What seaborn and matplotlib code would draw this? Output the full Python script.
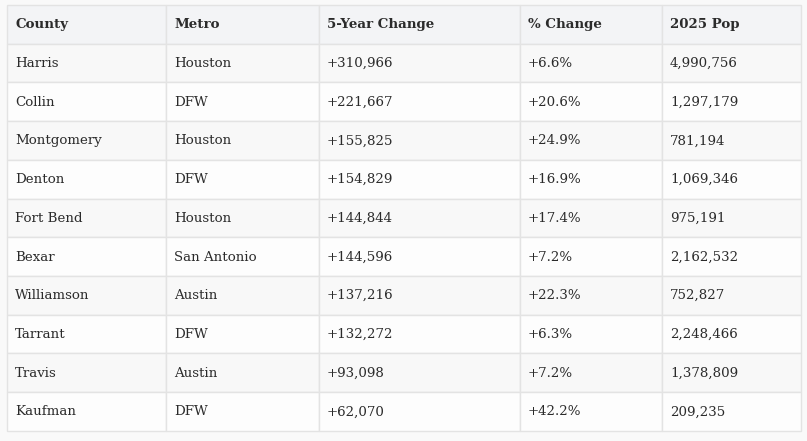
import matplotlib
matplotlib.use("Agg")
import matplotlib.pyplot as plt
from matplotlib.patches import Rectangle
import seaborn as sns

headers = ["County", "Metro", "5-Year Change", "% Change", "2025 Pop"]
counties = ["Harris", "Collin", "Montgomery", "Denton", "Fort Bend",
            "Bexar", "Williamson", "Tarrant", "Travis", "Kaufman"]
metros = ["Houston", "DFW", "Houston", "DFW", "Houston",
          "San Antonio", "Austin", "DFW", "Austin", "DFW"]
change_5yr = ["+310,966", "+221,667", "+155,825", "+154,829", "+144,844",
              "+144,596", "+137,216", "+132,272", "+93,098", "+62,070"]
pct_change = ["+6.6%", "+20.6%", "+24.9%", "+16.9%", "+17.4%",
              "+7.2%", "+22.3%", "+6.3%", "+7.2%", "+42.2%"]
pop_2025 = ["4,990,756", "1,297,179", "781,194", "1,069,346", "975,191",
            "2,162,532", "752,827", "2,248,466", "1,378,809", "209,235"]

sns.set_theme(style="white")
plt.rcParams["font.family"] = ["DejaVu Serif"]

W, H = 807, 441
fig = plt.figure(figsize=(W / 100, H / 100), dpi=100)
fig.patch.set_facecolor("#f9f9f9")
ax = fig.add_axes([0, 0, 1, 1])
ax.set_xlim(0, W)
ax.set_ylim(H, 0)
ax.axis("off")

col_edges = [7, 166, 319, 520, 662, 801]
top, row_h = 5, 38.7
rows = [headers] + [list(r) for r in zip(counties, metros, change_5yr, pct_change, pop_2025)]
border = "#e3e3e3"

for i, row in enumerate(rows):
    y0 = top + i * row_h
    if i == 0:
        bg = "#f3f4f6"
    elif i % 2 == 1:
        bg = "#f8f8f8"
    else:
        bg = "#fdfdfd"
    for j, txt in enumerate(row):
        x0, x1 = col_edges[j], col_edges[j + 1]
        ax.add_patch(Rectangle((x0, y0), x1 - x0, row_h, facecolor=bg,
                               edgecolor=border, linewidth=1.0))
        ax.text(x0 + 8, y0 + row_h / 2 + 0.5, txt, ha="left", va="center",
                fontsize=9.6, color="#2b2b2b",
                fontweight="bold" if i == 0 else "normal")

fig.savefig("out.png", dpi=100, facecolor=fig.get_facecolor())
